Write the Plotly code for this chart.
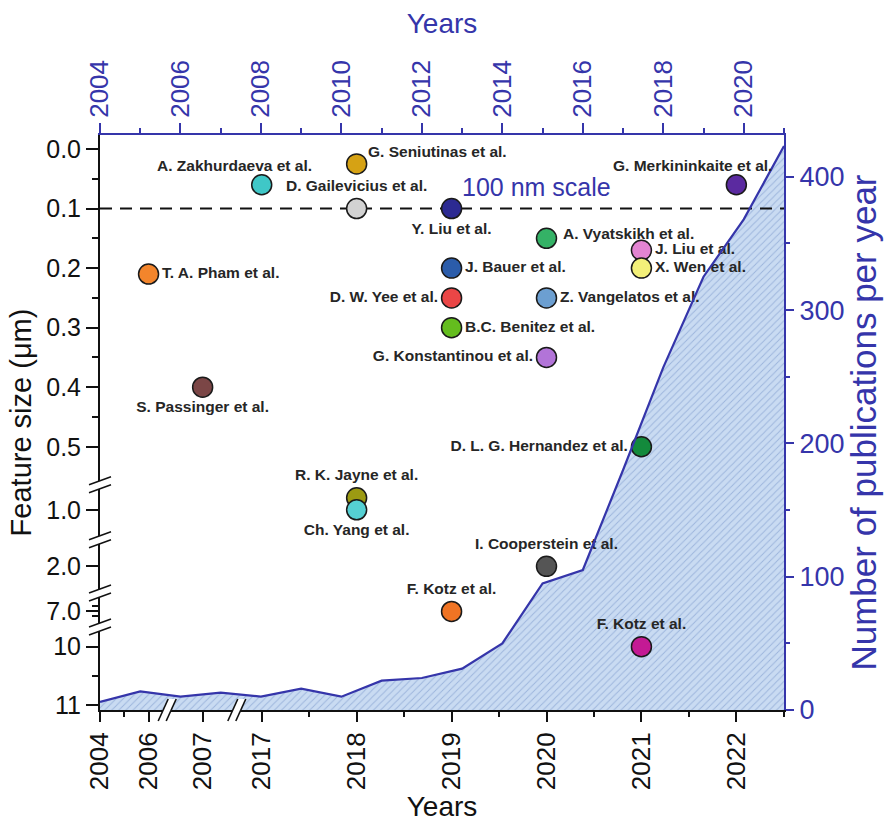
import numpy as np
import plotly.graph_objects as go

# ---------------------------------------------------------------------------
# Data
# ---------------------------------------------------------------------------
# Number of publications per calendar year (top / right axes)
PUB_YEARS = list(range(2004, 2022))
PUB_COUNTS = [6, 14, 10, 13, 10, 16, 10, 22, 24, 31, 50, 95, 105, 180, 257, 325, 368, 423]

# Smallest reported feature size (left axis) vs. year of report (bottom axis)
AUTHORS = [
    "T. A. Pham et al.", "S. Passinger et al.", "A. Zakhurdaeva et al.",
    "G. Seniutinas et al.", "D. Gailevicius et al.", "R. K. Jayne et al.",
    "Ch. Yang et al.", "Y. Liu et al.", "J. Bauer et al.", "D. W. Yee et al.",
    "B.C. Benitez et al.", "F. Kotz et al.", "A. Vyatskikh et al.",
    "Z. Vangelatos et al.", "G. Konstantinou et al.", "I. Cooperstein et al.",
    "J. Liu et al.", "X. Wen et al.", "D. L. G. Hernandez et al.",
    "F. Kotz et al.", "G. Merkininkaite et al.",
]
AUTHOR_YEARS = [2006, 2007, 2017, 2018, 2018, 2018, 2018, 2019, 2019, 2019,
                2019, 2019, 2020, 2020, 2020, 2020, 2021, 2021, 2021, 2021, 2022]
FEATURE_SIZES = [0.21, 0.40, 0.06, 0.025, 0.10, 0.8, 1.0, 0.10, 0.20, 0.25,
                 0.30, 7.0, 0.15, 0.25, 0.35, 2.0, 0.17, 0.20, 0.5, 10.0, 0.06]
MARKER_COLORS = [
    "#f3852c", "#7b4646", "#3fc7c7", "#d6a214", "#d2d2d2", "#9c9a12",
    "#55d0d3", "#2c2a92", "#2b5caa", "#ea4646", "#64bd1e", "#f07424",
    "#34b266", "#6c9fd1", "#b274d8", "#555555", "#e384d2", "#f3f079",
    "#138a3c", "#c41a94", "#5b2aa0",
]
# where each author label sits relative to its marker
LABEL_PLACES = [
    "middle right", "bottom center", "custom", "custom", "top center",
    "top center", "bottom center", "bottom center", "middle right", "middle left",
    "middle right", "top center", "custom", "middle right", "middle left",
    "top center", "middle right", "middle right", "middle left", "top center",
    "custom",
]
# anchor and pixel offsets for labels that do not fit a standard text position
CUSTOM_LABEL_SHIFT = {
    2: ("center", -27, 19),
    3: ("left", 9, 12),
    12: ("left", 14, 5),
    20: ("center", -44, 19),
}

# Tick labels
BOTTOM_TICKS = [2004, 2006, 2007, 2017, 2018, 2019, 2020, 2021, 2022]
BOTTOM_MINOR = [2005, 2017.5, 2018.5, 2019.5, 2020.5, 2021.5, 2022.5]
LEFT_TICKS = [0.0, 0.1, 0.2, 0.3, 0.4, 0.5, 1.0, 2.0, 7.0, 10.0, 11.0]
LEFT_TICK_TEXT = ["0.0", "0.1", "0.2", "0.3", "0.4", "0.5", "1.0", "2.0", "7.0", "10", "11"]
LEFT_MINOR = [0.05, 0.15, 0.25, 0.35, 0.45, 6.5, 7.5, 10.5]
SCALE_LINE_SIZE = 0.1  # 100 nm

# ---------------------------------------------------------------------------
# Broken-axis scales
# ---------------------------------------------------------------------------
# bottom axis: report year -> position on the continuous year scale of the top axis
BOTTOM_KNOT_YEARS = [2004, 2006, 2007, 2017, 2022, 2022.5]
BOTTOM_KNOT_POS = [2004.0, 2005.207, 2006.551, 2008.019, 2019.816, 2021.0]
BOTTOM_BREAKS = [2005.67, 2007.40]

# left axis: feature size -> linear axis units, one row per unbroken segment
LEFT_SEGMENTS = [
    (0.0, 0.56, 0.0, 0.56),
    (0.65, 1.43, 0.5706, 0.6492),
    (1.62, 2.37, 0.6625, 0.7381),
    (6.0, 8.0, 0.7597, 0.7933),
    (9.75, 11.09, 0.8111, 0.9424),
]
LEFT_BREAKS = [0.5639, 0.6563, 0.7454, 0.8025]
LEFT_RANGE = [0.942, -0.0235]

TOP_RANGE = [2004, 2021]
RIGHT_RANGE = [0, 431.3]


def bottom_pos(years):
    return np.interp(years, BOTTOM_KNOT_YEARS, BOTTOM_KNOT_POS)


def left_pos(values):
    kv = [v for s in LEFT_SEGMENTS for v in s[:2]]
    ku = [u for s in LEFT_SEGMENTS for u in s[2:]]
    return np.interp(values, kv, ku)


FONT = "Liberation Sans, Arial, sans-serif"
BLUE = "#3535aa"
INK = "#111111"
LABEL_FONT = dict(family=FONT, size=15.5, color="#262626", weight="bold")

fig = go.Figure()

# publication area: hatched fill on the base subplot (top / right axes)
fig.add_trace(go.Scatter(
    x=PUB_YEARS, y=PUB_COUNTS, xaxis="x2", yaxis="y2",
    mode="lines", line=dict(width=0, color=BLUE), fill="tozeroy",
    fillcolor="#c9dbf2",
    fillpattern=dict(shape="/", bgcolor="#c9dbf2", fgcolor="#9cb4dc",
                     size=5, solidity=0.18, fillmode="replace"),
    hoverinfo="skip", showlegend=False,
))

# 100 nm reference line
fig.add_trace(go.Scatter(
    x=TOP_RANGE, y=left_pos([SCALE_LINE_SIZE, SCALE_LINE_SIZE]),
    xaxis="x", yaxis="y", mode="lines",
    line=dict(color=INK, width=2, dash="12px,8px"),
    hoverinfo="skip", showlegend=False,
))

# feature-size markers with author labels
std_idx = [i for i, p in enumerate(LABEL_PLACES) if p != "custom"]
cus_idx = [i for i, p in enumerate(LABEL_PLACES) if p == "custom"]
fig.add_trace(go.Scatter(
    x=bottom_pos([AUTHOR_YEARS[i] for i in std_idx]),
    y=left_pos([FEATURE_SIZES[i] for i in std_idx]),
    xaxis="x", yaxis="y", mode="markers+text",
    text=[AUTHORS[i] for i in std_idx],
    textposition=[LABEL_PLACES[i] for i in std_idx],
    textfont=LABEL_FONT,
    marker=dict(size=20, color=[MARKER_COLORS[i] for i in std_idx],
                line=dict(color="#1a1a1a", width=1.5)),
    cliponaxis=False, showlegend=False,
))
fig.add_trace(go.Scatter(
    x=bottom_pos([AUTHOR_YEARS[i] for i in cus_idx]),
    y=left_pos([FEATURE_SIZES[i] for i in cus_idx]),
    xaxis="x", yaxis="y", mode="markers",
    marker=dict(size=20, color=[MARKER_COLORS[i] for i in cus_idx],
                line=dict(color="#1a1a1a", width=1.5)),
    cliponaxis=False, showlegend=False,
))

# publication curve drawn on top of everything
fig.add_trace(go.Scatter(
    x=PUB_YEARS, y=PUB_COUNTS, xaxis="x3", yaxis="y3",
    mode="lines", line=dict(width=2.2, color=BLUE),
    hoverinfo="skip", showlegend=False,
))

annotations = []
for i in cus_idx:
    anchor, dx, dy = CUSTOM_LABEL_SHIFT[i]
    annotations.append(dict(
        x=float(bottom_pos(AUTHOR_YEARS[i])), y=float(left_pos(FEATURE_SIZES[i])),
        xref="x", yref="y", text=AUTHORS[i], showarrow=False,
        xshift=dx, yshift=dy, xanchor=anchor, yanchor="middle",
        font=LABEL_FONT,
    ))
annotations.append(dict(
    x=0.526, y=float(left_pos(SCALE_LINE_SIZE)), xref="paper", yref="y",
    text="100 nm scale", showarrow=False, xanchor="left", yanchor="bottom",
    yshift=6, font=dict(family=FONT, size=25, color=BLUE),
))

# axis-break marks
shapes = []
for b in LEFT_BREAKS:
    common = dict(xref="paper", yref="y", xsizemode="pixel", ysizemode="pixel",
                  xanchor=0, yanchor=b, layer="above")
    shapes.append(dict(type="path", path="M-11,-8 L11,0 L11,8 L-11,0 Z",
                       fillcolor="white", line=dict(width=0), **common))
    shapes.append(dict(type="path", path="M-11,-8 L11,0", line=dict(color=INK, width=1.6), **common))
    shapes.append(dict(type="path", path="M-11,0 L11,8", line=dict(color=INK, width=1.6), **common))
for b in BOTTOM_BREAKS:
    common = dict(xref="x", yref="paper", xsizemode="pixel", ysizemode="pixel",
                  xanchor=b, yanchor=0, layer="above")
    shapes.append(dict(type="path", path="M-9,-11 L1,11 L9,11 L-1,-11 Z",
                       fillcolor="white", line=dict(width=0), **common))
    shapes.append(dict(type="path", path="M-9,-11 L1,11", line=dict(color=INK, width=1.6), **common))
    shapes.append(dict(type="path", path="M-1,-11 L9,11", line=dict(color=INK, width=1.6), **common))

fig.update_layout(
    width=885, height=822,
    margin=dict(l=100, r=101, t=135, b=112),
    paper_bgcolor="white", plot_bgcolor="white",
    showlegend=False,
    xaxis2=dict(
        side="top", range=TOP_RANGE, tick0=2004, dtick=2, tickangle=-90,
        showline=True, linecolor=BLUE, linewidth=2, showgrid=False, zeroline=False,
        ticks="outside", ticklen=10, tickwidth=2, tickcolor=BLUE,
        tickfont=dict(family=FONT, size=26, color=BLUE),
        minor=dict(dtick=1, tick0=2004, ticks="outside", ticklen=5, tickwidth=2, tickcolor=BLUE),
        title=dict(text="Years", font=dict(family=FONT, size=28, color=BLUE), standoff=18),
        automargin=False,
    ),
    yaxis2=dict(
        side="right", range=RIGHT_RANGE, dtick=100, tick0=0,
        showline=True, linecolor=BLUE, linewidth=2, showgrid=False, zeroline=False,
        ticks="outside", ticklen=8, tickwidth=2, tickcolor=BLUE,
        tickfont=dict(family=FONT, size=27, color=BLUE),
        minor=dict(dtick=50, tick0=0, ticks="outside", ticklen=4, tickwidth=2, tickcolor=BLUE),
        title=dict(text="Number of publications per year",
                   font=dict(family=FONT, size=35, color=BLUE), standoff=2),
        automargin=False,
    ),
    xaxis=dict(
        overlaying="x2", side="bottom", range=TOP_RANGE,
        tickmode="array", tickvals=list(bottom_pos(BOTTOM_TICKS)),
        ticktext=[str(t) for t in BOTTOM_TICKS], tickangle=-90,
        showline=True, linecolor=INK, linewidth=2, showgrid=False, zeroline=False,
        ticks="outside", ticklen=10, tickwidth=2, tickcolor=INK,
        tickfont=dict(family=FONT, size=26, color=INK),
        minor=dict(tickmode="array", tickvals=list(bottom_pos(BOTTOM_MINOR)),
                   ticks="outside", ticklen=5, tickwidth=2, tickcolor=INK),
        title=dict(text="Years", font=dict(family=FONT, size=28, color=INK), standoff=8),
        automargin=False,
    ),
    yaxis=dict(
        overlaying="y2", side="left", range=LEFT_RANGE,
        tickmode="array", tickvals=list(left_pos(LEFT_TICKS)), ticktext=LEFT_TICK_TEXT,
        showline=True, linecolor=INK, linewidth=2, showgrid=False, zeroline=False,
        ticks="outside", ticklen=12, tickwidth=2, tickcolor=INK,
        tickfont=dict(family=FONT, size=25, color=INK),
        minor=dict(tickmode="array", tickvals=list(left_pos(LEFT_MINOR)),
                   ticks="outside", ticklen=6, tickwidth=2, tickcolor=INK),
        title=dict(text="Feature size (μm)", font=dict(family=FONT, size=29, color=INK), standoff=6),
        automargin=False,
    ),
    xaxis3=dict(overlaying="x2", range=TOP_RANGE, visible=False),
    yaxis3=dict(overlaying="y2", range=RIGHT_RANGE, visible=False),
    annotations=annotations,
    shapes=shapes,
)

fig.write_html("out.html")
